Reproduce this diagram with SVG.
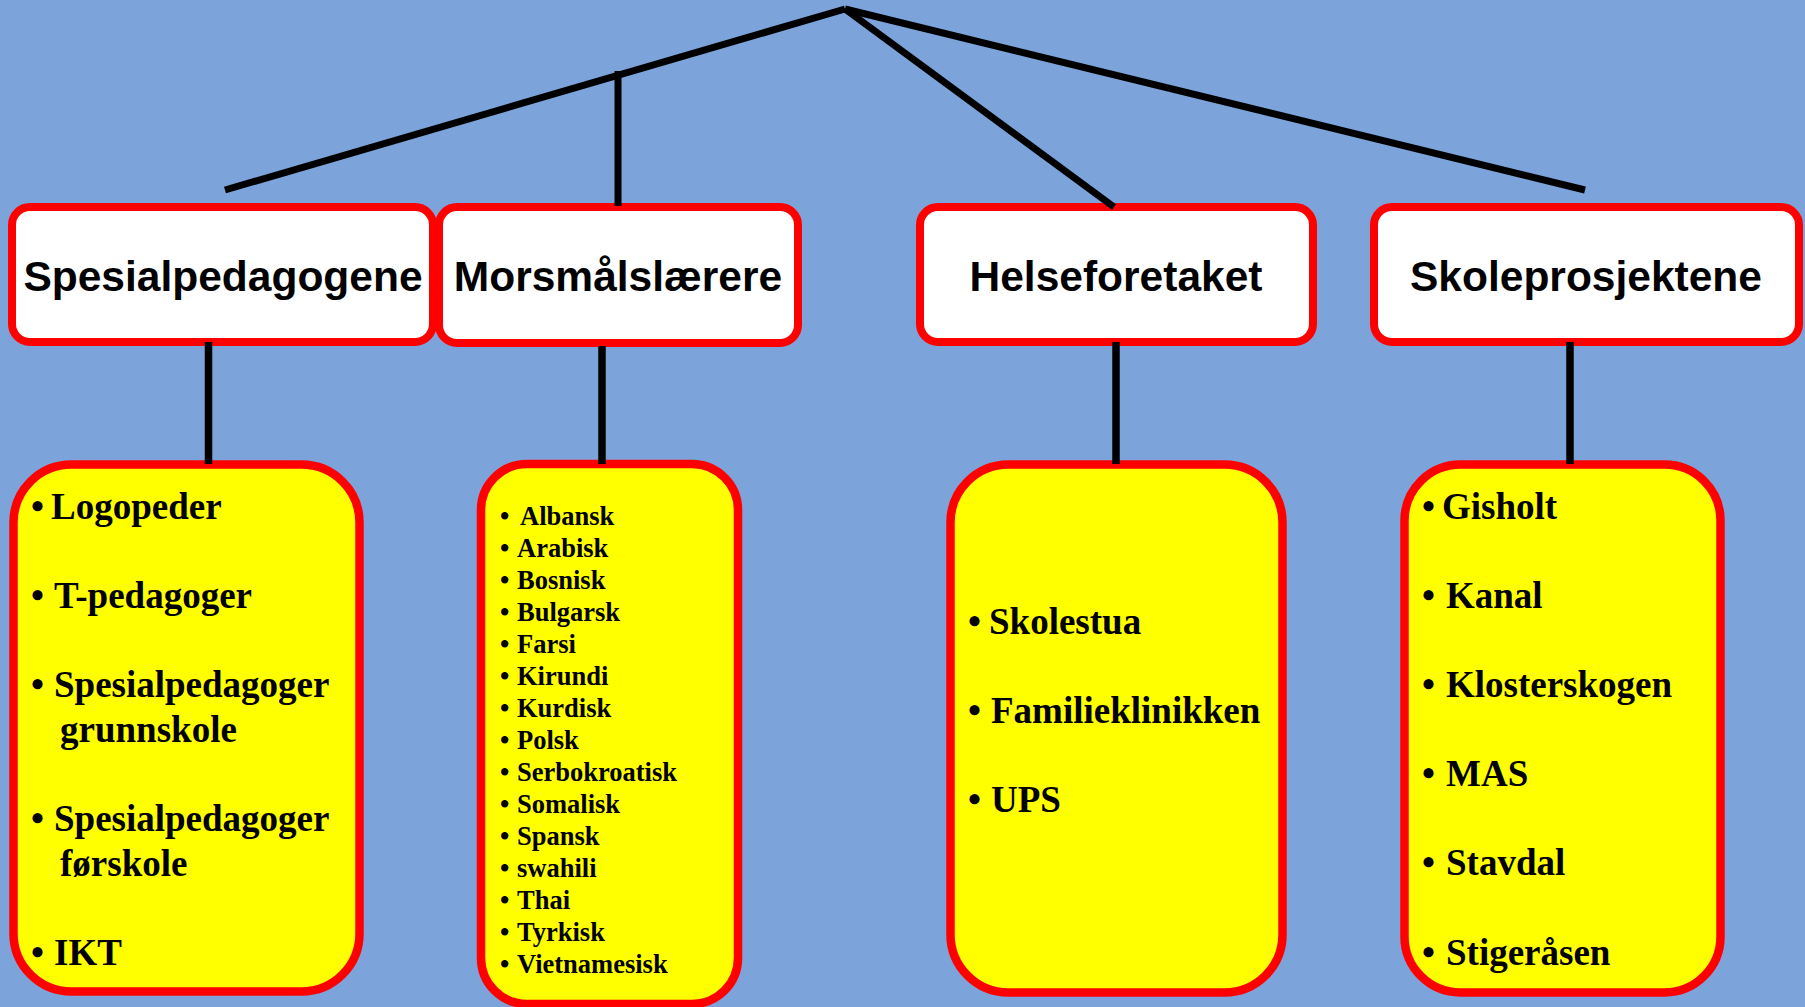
<svg xmlns="http://www.w3.org/2000/svg" width="1805" height="1007" viewBox="0 0 1805 1007">
<style>
.hbox{fill:#FFFFFF;stroke:#FF0000;stroke-width:8}
.ybox{fill:#FFFF00;stroke:#FF0000;stroke-width:8.5}
.hdr{font-family:"Liberation Sans",Arial,sans-serif;font-weight:bold;font-size:42.5px;text-anchor:middle;fill:#000}
.it{font-family:"Liberation Serif","Times New Roman",serif;font-weight:bold;font-size:37px;fill:#000}
.lg{font-family:"Liberation Serif","Times New Roman",serif;font-weight:bold;font-size:26.5px;fill:#000}
.con line{stroke:#000;stroke-linecap:butt}
.d{stroke-width:7}
.v{stroke-width:7.5}
</style>
<rect x="0" y="0" width="1805" height="1007" fill="#7CA4DA"/>

<g id="node-spesialpedagogene">
<rect class="hbox" x="12" y="207" width="421" height="135" rx="18"/>
<text class="hdr" x="223" y="291">Spesialpedagogene</text>
</g>
<g id="node-morsmalslaerere">
<rect class="hbox" x="439" y="207" width="359" height="136" rx="18"/>
<text class="hdr" x="618" y="291">Morsmålslærere</text>
</g>
<g id="node-helseforetaket">
<rect class="hbox" x="920" y="207" width="393" height="135" rx="18"/>
<text class="hdr" x="1116" y="291">Helseforetaket</text>
</g>
<g id="node-skoleprosjektene">
<rect class="hbox" x="1374" y="207" width="425" height="135" rx="18"/>
<text class="hdr" x="1586" y="291">Skoleprosjektene</text>
</g>

<g id="list-spesialpedagoger">
<rect class="ybox" x="13.5" y="464.5" width="346" height="527" rx="58"/>
<text class="it"><tspan x="31" y="519">•</tspan><tspan x="51" y="519">Logopeder</tspan></text>
<text class="it"><tspan x="31" y="608">•</tspan><tspan x="54" y="608">T-pedagoger</tspan></text>
<text class="it"><tspan x="31" y="697">•</tspan><tspan x="54" y="697">Spesialpedagoger</tspan><tspan x="60" y="742">grunnskole</tspan></text>
<text class="it"><tspan x="31" y="831">•</tspan><tspan x="54" y="831">Spesialpedagoger</tspan><tspan x="60" y="876">førskole</tspan></text>
<text class="it"><tspan x="31" y="965">•</tspan><tspan x="54" y="965">IKT</tspan></text>
</g>

<g id="list-sprak">
<rect class="ybox" x="481" y="464" width="257" height="540" rx="46"/>
<text class="lg"><tspan x="500" y="525">•</tspan><tspan x="520" y="525">Albansk</tspan></text>
<text class="lg"><tspan x="500" y="557">•</tspan><tspan x="517" y="557">Arabisk</tspan></text>
<text class="lg"><tspan x="500" y="589">•</tspan><tspan x="517" y="589">Bosnisk</tspan></text>
<text class="lg"><tspan x="500" y="621">•</tspan><tspan x="517" y="621">Bulgarsk</tspan></text>
<text class="lg"><tspan x="500" y="653">•</tspan><tspan x="517" y="653">Farsi</tspan></text>
<text class="lg"><tspan x="500" y="685">•</tspan><tspan x="517" y="685">Kirundi</tspan></text>
<text class="lg"><tspan x="500" y="717">•</tspan><tspan x="517" y="717">Kurdisk</tspan></text>
<text class="lg"><tspan x="500" y="749">•</tspan><tspan x="517" y="749">Polsk</tspan></text>
<text class="lg"><tspan x="500" y="781">•</tspan><tspan x="517" y="781">Serbokroatisk</tspan></text>
<text class="lg"><tspan x="500" y="813">•</tspan><tspan x="517" y="813">Somalisk</tspan></text>
<text class="lg"><tspan x="500" y="845">•</tspan><tspan x="517" y="845">Spansk</tspan></text>
<text class="lg"><tspan x="500" y="877">•</tspan><tspan x="517" y="877">swahili</tspan></text>
<text class="lg"><tspan x="500" y="909">•</tspan><tspan x="517" y="909">Thai</tspan></text>
<text class="lg"><tspan x="500" y="941">•</tspan><tspan x="517" y="941">Tyrkisk</tspan></text>
<text class="lg"><tspan x="500" y="973">•</tspan><tspan x="517" y="973">Vietnamesisk</tspan></text>
</g>

<g id="list-helse">
<rect class="ybox" x="950.5" y="464.5" width="332" height="528" rx="58"/>
<text class="it"><tspan x="968" y="634">•</tspan><tspan x="989" y="634">Skolestua</tspan></text>
<text class="it"><tspan x="968" y="723">•</tspan><tspan x="991" y="723">Familieklinikken</tspan></text>
<text class="it"><tspan x="968" y="812">•</tspan><tspan x="991" y="812">UPS</tspan></text>
</g>

<g id="list-skoler">
<rect class="ybox" x="1404.5" y="464.5" width="316" height="528" rx="56"/>
<text class="it"><tspan x="1422" y="519">•</tspan><tspan x="1442" y="519">Gisholt</tspan></text>
<text class="it"><tspan x="1422" y="608">•</tspan><tspan x="1446" y="608">Kanal</tspan></text>
<text class="it"><tspan x="1422" y="697">•</tspan><tspan x="1446" y="697">Klosterskogen</tspan></text>
<text class="it"><tspan x="1422" y="786">•</tspan><tspan x="1446" y="786">MAS</tspan></text>
<text class="it"><tspan x="1422" y="875">•</tspan><tspan x="1446" y="875">Stavdal</tspan></text>
<text class="it"><tspan x="1422" y="965">•</tspan><tspan x="1446" y="965">Stigeråsen</tspan></text>
</g>

<g id="connectors" class="con">
<line class="d" x1="845" y1="9" x2="225" y2="190"/>
<line class="d" x1="618" y1="71" x2="618" y2="206"/>
<line class="d" x1="845" y1="9" x2="1114" y2="207"/>
<line class="d" x1="845" y1="9" x2="1585" y2="190"/>
<line class="v" x1="208.5" y1="342" x2="208.5" y2="464"/>
<line class="v" x1="602" y1="346" x2="602" y2="464"/>
<line class="v" x1="1116" y1="342" x2="1116" y2="464"/>
<line class="v" x1="1570" y1="342" x2="1570" y2="464"/>
</g>
</svg>
